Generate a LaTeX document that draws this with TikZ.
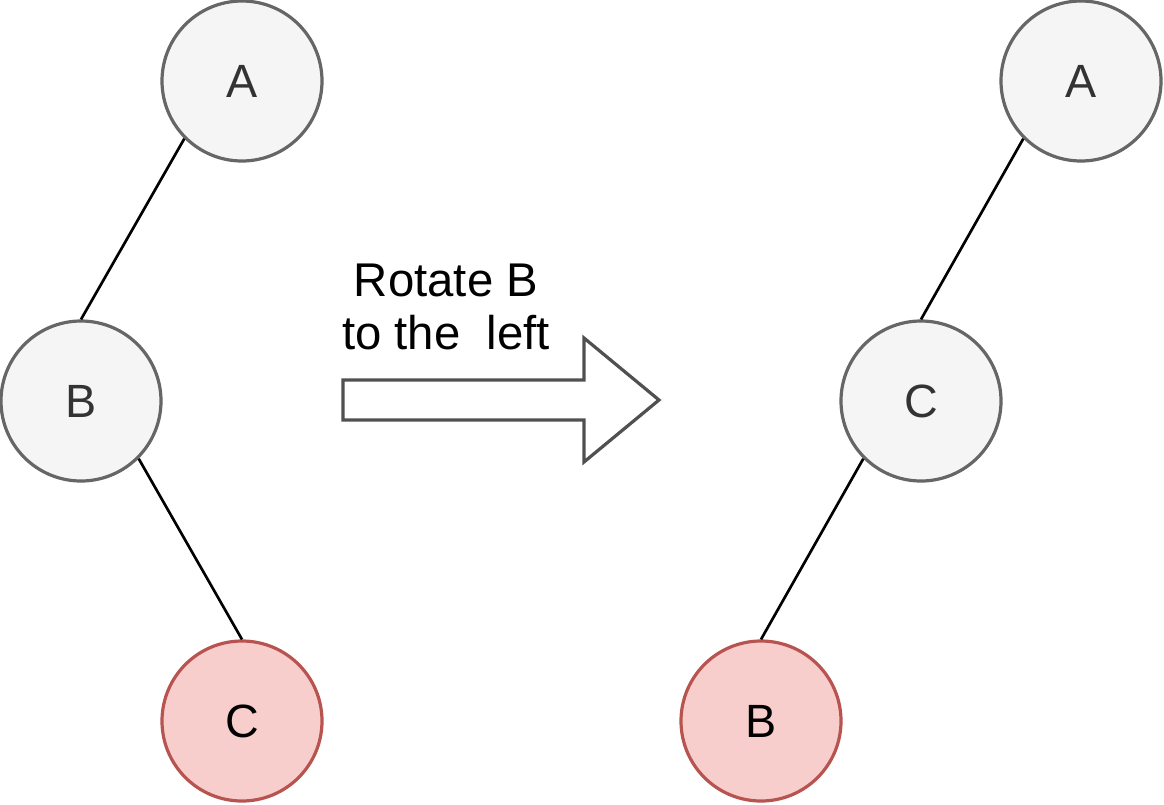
\documentclass[tikz,border=0pt]{standalone}
\usepackage{fontspec}
\setmainfont{Liberation Sans}
\definecolor{grayfill}{HTML}{F5F5F5}
\definecolor{graydraw}{HTML}{666666}
\definecolor{graytext}{HTML}{333333}
\definecolor{redfill}{HTML}{F8CECC}
\definecolor{reddraw}{HTML}{B85450}
\definecolor{arrowdraw}{HTML}{505050}
\begin{document}
\begin{tikzpicture}[x=0.75pt,y=-0.75pt,
  treenode/.style={circle,minimum size=120pt,inner sep=0pt,line width=2.4pt,
    font=\fontsize{35}{42}\selectfont},
  graynode/.style={treenode,fill=grayfill,draw=graydraw,text=graytext},
  rednode/.style={treenode,fill=redfill,draw=reddraw,text=black},
  edge/.style={line width=2pt,black},
  bigarrow/.style={draw=arrowdraw,line width=2.4pt,fill=white,line join=miter},
  caption/.style={align=center,font=\fontsize{35.5}{40}\selectfont,inner sep=0pt}]
\useasboundingbox (0,0) rectangle (1164,804);
% left tree
\node[graynode] (lA) at (242,81) {A};
\node[graynode] (lB) at (81,401) {B};
\node[rednode] (lC) at (242,721) {C};
\draw[edge] (lA.south west) -- (lB.north);
\draw[edge] (lB.south east) -- (lC.north);
% right tree
\node[graynode] (rA) at (1081,81) {A};
\node[graynode] (rC) at (921,401) {C};
\node[rednode] (rB) at (761,721) {B};
\draw[edge] (rA.south west) -- (rC.north);
\draw[edge] (rC.south west) -- (rB.north);
% arrow
\draw[bigarrow] (343,380) -- (584,380) -- (584,338) -- (659,400) -- (584,462) -- (584,420) -- (343,420) -- cycle;
\node[caption] (cap) at (446,307) {Rotate B\\to the\ \ left};
\end{tikzpicture}
\end{document}
